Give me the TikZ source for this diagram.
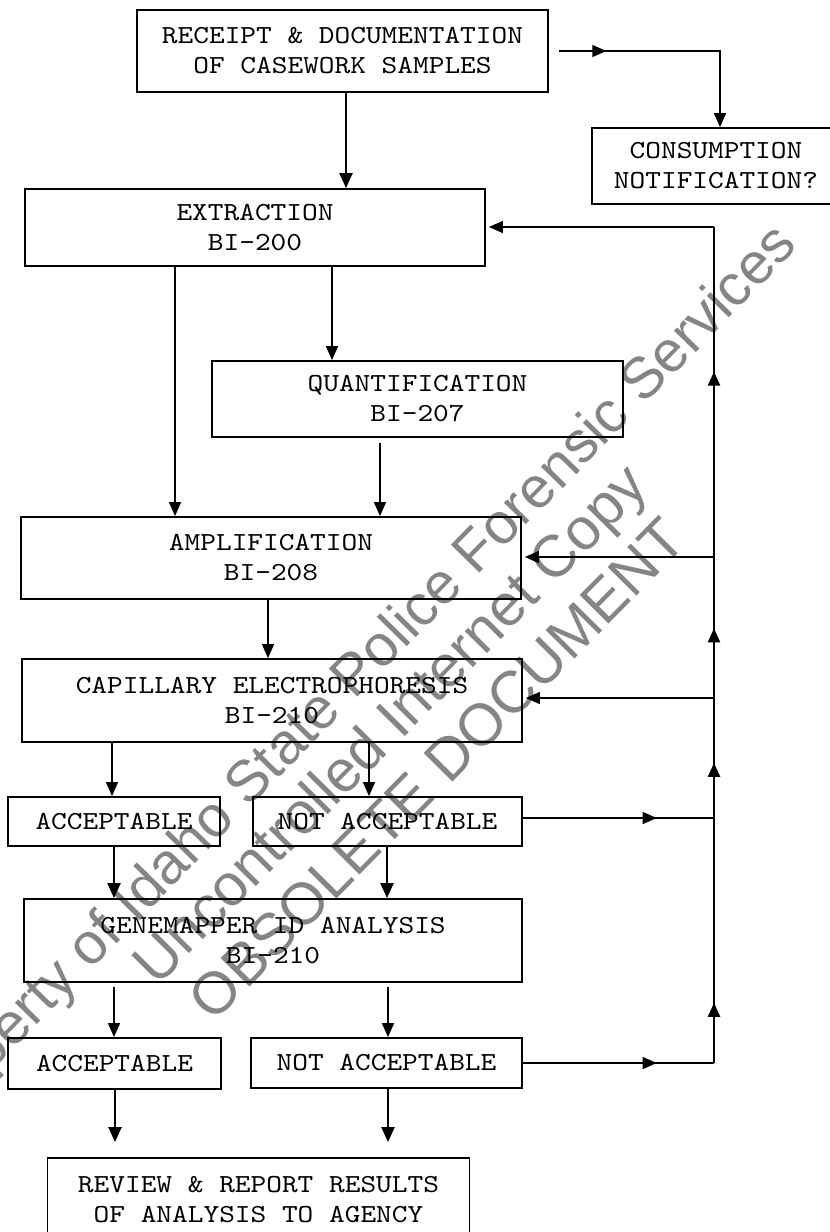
\documentclass[tikz,border=0pt]{standalone}
\usepackage{fontspec}
\usetikzlibrary{arrows.meta,decorations.markings}
\newfontfamily\boxfont{lmmono10-regular.otf}[FakeStretch=1.15]
\newfontfamily\wmfont{Liberation Sans}
\begin{document}
\begin{tikzpicture}[x=1pt,y=-1pt,
  box/.style={draw, line width=1.8pt, inner sep=0pt, align=center,
    font=\boxfont\fontsize{26}{30}\selectfont},
  conn/.style={line width=1.5pt},
  heavy/.style={line width=2.2pt},
  arr/.style={conn, -{Triangle[length=14pt,width=12pt]}},
  arrheavy/.style={heavy, -{Triangle[length=15pt,width=13pt]}},
  watermark/.style={text=black!48, font=\wmfont\fontsize{59}{59}\selectfont, rotate=45.3, inner sep=0pt}
]
\useasboundingbox (0,0) rectangle (830,1232);
\clip (0,0) rectangle (830,1232);
\fill[white] (0,0) rectangle (830,1232);

% watermark
\node[watermark, font=\wmfont\fontsize{58}{58}\selectfont, rotate=0.3] (wm1) at (352,682) {Property of Idaho State Police Forensic Services};
\node[watermark] (wm2) at (393,727) {Uncontrolled Internet Copy};
\node[watermark] (wm3) at (437,769) {OBSOLETE DOCUMENT};

% boxes
\node[box, minimum width=411pt, minimum height=82pt] (rec) at (342.5,51) {RECEIPT \& DOCUMENTATION\\OF CASEWORK SAMPLES};
\node[box, minimum width=248pt, minimum height=76pt] (cons) at (716,166) {CONSUMPTION\\NOTIFICATION?};
\node[box, minimum width=460pt, minimum height=77pt] (ext) at (255,227.5) {EXTRACTION\\BI-200};
\node[box, minimum width=411pt, minimum height=76pt] (quant) at (417.5,399) {QUANTIFICATION\\BI-207};
\node[box, minimum width=500pt, minimum height=82pt] (amp) at (271,558) {AMPLIFICATION\\BI-208};
\node[box, minimum width=500pt, minimum height=83pt] (ce) at (272,700.5) {CAPILLARY ELECTROPHORESIS\\BI-210};
\node[box, minimum width=212pt, minimum height=49pt] (acc1) at (114,821.5) {ACCEPTABLE};
\node[box, minimum width=269pt, minimum height=49pt] (na1) at (387.5,821.5) {NOT ACCEPTABLE};
\node[box, minimum width=498pt, minimum height=83pt] (gm) at (273,940.5) {GENEMAPPER ID ANALYSIS\\BI-210};
\node[box, minimum width=213pt, minimum height=51pt] (acc2) at (114.5,1063.5) {ACCEPTABLE};
\node[box, minimum width=271pt, minimum height=50pt] (na2) at (386.5,1063) {NOT ACCEPTABLE};
\node[box, minimum width=422pt, minimum height=84pt] (rev) at (258.5,1200) {REVIEW \& REPORT RESULTS\\OF ANALYSIS TO AGENCY};

% receipt -> consumption
\coordinate (rs) at ([xshift=10pt]rec.east);
\coordinate (rc) at (720,0 |- rs);
\draw[arr, postaction={decorate}, decoration={markings,
   mark=at position 0.2 with {\arrow{Triangle[length=14pt,width=12pt]}}}]
   (rs) -- (rc) -- (rc |- cons.north);

% main flow
\draw[arrheavy] (346,0 |- rec.south) -- (346,0 |- ext.north);
\draw[arr] (332,0 |- ext.south) -- (332,0 |- quant.north);
\draw[arr] (175,0 |- ext.south) -- (175,0 |- amp.north);
\draw[arr, shorten <=5pt] (380,0 |- quant.south) -- (380,0 |- amp.north);
\draw[arr] (268,0 |- amp.south) -- (268,0 |- ce.north);
\draw[arr] (112,0 |- ce.south) -- (112,0 |- acc1.north);
\draw[arr] (369,0 |- ce.south) -- (369,0 |- na1.north);
\draw[arrheavy] (114,0 |- acc1.south) -- (114,0 |- gm.north);
\draw[arrheavy] (387,0 |- na1.south) -- (387,0 |- gm.north);
\draw[arr, shorten <=4pt] (114,0 |- gm.south) -- (114,0 |- acc2.north);
\draw[arr, shorten <=4pt] (388,0 |- gm.south) -- (388,0 |- na2.north);
\draw[arrheavy, shorten >=15pt] (115,0 |- acc2.south) -- (115,0 |- rev.north);
\draw[arrheavy, shorten >=15pt] (388,0 |- na2.south) -- (388,0 |- rev.north);

% feedback bus
\coordinate (bA) at (714,1063);
\coordinate (bB) at (714,818);
\coordinate (bC) at (714,698);
\coordinate (bD) at (714,557);
\coordinate (bE) at (714,227);
\draw[conn, postaction={decorate}, decoration={markings,
   mark=at position 0.7 with {\arrow{Triangle[length=14pt,width=12pt]}}}]
   (na2.east |- bA) -- (bA);
\draw[conn, postaction={decorate}, decoration={markings,
   mark=at position 0.7 with {\arrow{Triangle[length=14pt,width=12pt]}}}]
   (na1.east |- bB) -- (bB);
\draw[heavy, postaction={decorate}, decoration={markings,
   mark=at position 0.072 with {\arrow{Triangle[length=14pt,width=12pt]}},
   mark=at position 0.359 with {\arrow{Triangle[length=14pt,width=12pt]}},
   mark=at position 0.52 with {\arrow{Triangle[length=14pt,width=12pt]}},
   mark=at position 0.827 with {\arrow{Triangle[length=14pt,width=12pt]}}}]
   (bA) -- (bE);
\draw[arr, shorten >=3pt] (bC) -- (bC -| ce.east);
\draw[arr, shorten >=3pt] (bD) -- (bD -| amp.east);
\draw[arr, shorten >=3pt] (bE) -- (bE -| ext.east);
\end{tikzpicture}
\end{document}
